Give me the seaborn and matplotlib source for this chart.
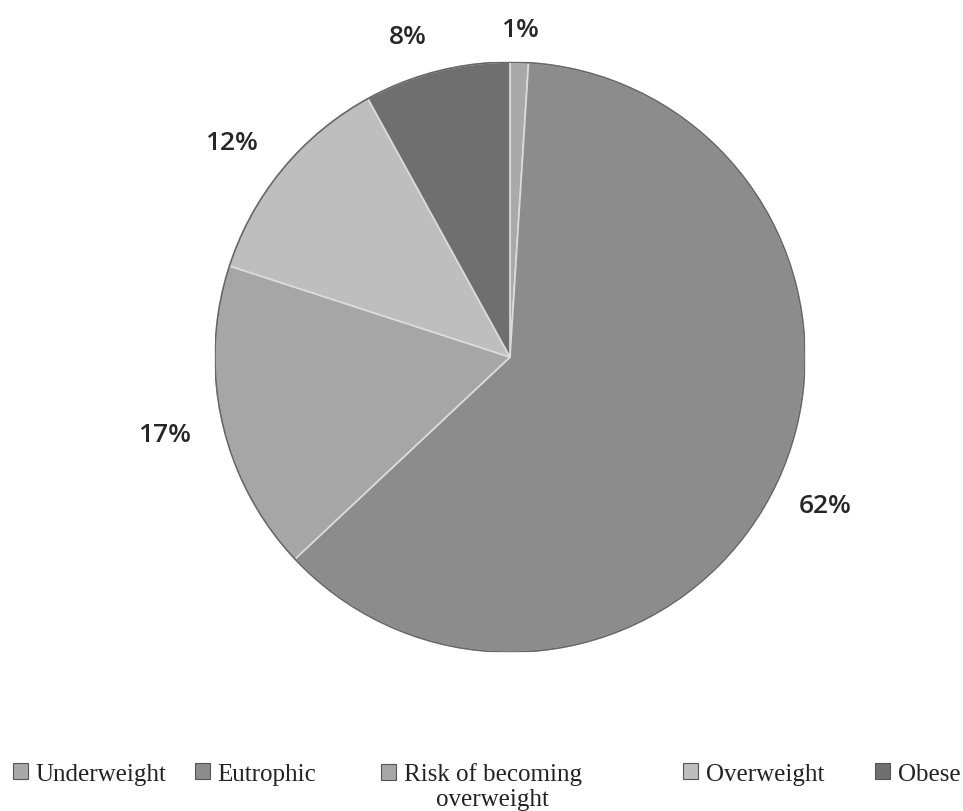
import matplotlib
matplotlib.use("Agg")
import numpy as np
import matplotlib.pyplot as plt
import seaborn as sns
from matplotlib.patches import Circle

categories = ["Underweight", "Eutrophic", "Risk of becoming\noverweight", "Overweight", "Obese"]
values = [1, 62, 17, 12, 8]
colors = ["#a9a9a9", "#8c8c8c", "#a6a6a6", "#bebebe", "#6f6f6f"]
# label placement style (radius factor, angular nudge in degrees)
label_radius = [1.11, 1.18, 1.2, 1.19, 1.14]
label_nudge = [0, 0, 0, 2.0, 3.3]
legend_x_px = [13, 195, 381, 683, 875]

sns.set_theme(style="white")
plt.rcParams['font.family'] = ['Open Sans', 'DejaVu Sans']

W, H = 963, 812
fig = plt.figure(figsize=(W / 100, H / 100), dpi=100)
ax = fig.add_axes([0.5296 - 0.3063, 0.559 - 0.3633, 0.6126, 0.7266])

wedges, texts, autotexts = ax.pie(
    values, colors=colors, startangle=90, counterclock=False,
    autopct="%1.0f%%", pctdistance=1.0, radius=1.0,
    wedgeprops=dict(edgecolor="#dcdcdc", linewidth=1.2),
    textprops=dict(fontsize=19, color="#262626", fontweight="semibold"))
for w, t, k, nd in zip(wedges, autotexts, label_radius, label_nudge):
    ang = np.deg2rad((w.theta1 + w.theta2) / 2 + nd)
    t.set_position((k * np.cos(ang), k * np.sin(ang)))
ax.add_patch(Circle((0, 0), 1.0, fill=False, edgecolor="#666666", linewidth=1.2))
ax.set_xlim(-1, 1)
ax.set_ylim(-1, 1)
ax.set_aspect("equal")
ax.axis("off")

legend_font = dict(family="Liberation Serif", size=18)
leg_texts = []
for w, lab, xp in zip(wedges, categories, legend_x_px):
    first = lab.split("\n")[0]
    lg = fig.legend([w], [first], loc="center left",
                    bbox_to_anchor=(xp / W, 1 - 775 / H),
                    frameon=False, borderpad=0, borderaxespad=0,
                    handlelength=0.6, handleheight=0.6, handletextpad=0.3,
                    prop=legend_font)
    for h in lg.legend_handles:
        h.set_edgecolor("#555555")
        h.set_linewidth(0.8)
    lg.get_texts()[0].set_color("#222222")
    leg_texts.append((lg.get_texts()[0], lab))

fig.canvas.draw()
renderer = fig.canvas.get_renderer()
for t, lab in leg_texts:
    lines = lab.split("\n")
    if len(lines) > 1:
        bb = t.get_window_extent(renderer)
        xc = (bb.x0 + bb.x1) / 2 / W
        fig.text(xc, (bb.y0 - 25) / H, lines[1], ha="center", va="bottom",
                 color="#222222", **legend_font)

fig.savefig("out.png", dpi=100, facecolor="white")
